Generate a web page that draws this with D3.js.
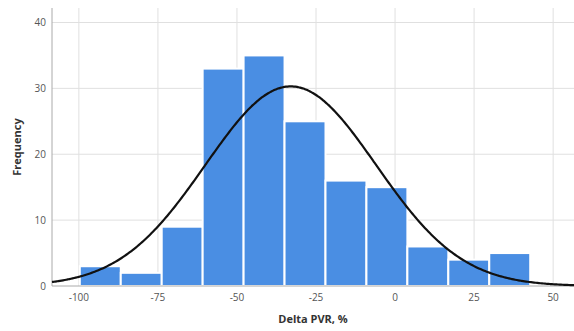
<!DOCTYPE html>
<html>
<head>
<meta charset="utf-8">
<script src="https://cdn.jsdelivr.net/npm/d3@7"></script>
<style>
  body { margin: 0; background: #fff; }
  text { font-family: "Open Sans", "DejaVu Sans", sans-serif; }
</style>
</head>
<body>
<svg id="chart"></svg>
<script>
const width = 574;
const height = 331;

// Histogram bins (lower edges) and counts
const binStart = -99.7;
const binWidth = 12.95;
const counts = [3, 2, 9, 33, 35, 25, 16, 15, 6, 4, 5];

// Fitted normal curve
const curveMean = -33;
const curveSd = 27;
const curvePeak = 30.3;

const xTicks = [-100, -75, -50, -25, 0, 25, 50];
const yTicks = [0, 10, 20, 30, 40];

const margin = { top: 8, right: 0, bottom: 45, left: 52 };

const svg = d3.select("#chart")
    .attr("width", width)
    .attr("height", height);

const x = d3.scaleLinear()
    .domain([-108.5, 56.6])
    .range([margin.left, width - margin.right]);

const y = d3.scaleLinear()
    .domain([0, 42.2])
    .range([height - margin.bottom, margin.top]);

// Grid lines
svg.append("g")
    .selectAll("line")
    .data(xTicks)
    .join("line")
    .attr("x1", d => x(d))
    .attr("x2", d => x(d))
    .attr("y1", margin.top)
    .attr("y2", y(0))
    .attr("stroke", "#e0e0e0")
    .attr("stroke-width", 1);

svg.append("g")
    .selectAll("line")
    .data(yTicks.filter(d => d > 0))
    .join("line")
    .attr("x1", margin.left)
    .attr("x2", width - margin.right)
    .attr("y1", d => y(d))
    .attr("y2", d => y(d))
    .attr("stroke", "#e0e0e0")
    .attr("stroke-width", 1);

// Bars
const bins = counts.map((c, i) => ({
    x0: binStart + i * binWidth,
    x1: binStart + (i + 1) * binWidth,
    count: c
}));

svg.append("g")
    .selectAll("rect")
    .data(bins)
    .join("rect")
    .attr("x", d => x(d.x0))
    .attr("width", d => x(d.x1) - x(d.x0))
    .attr("y", d => y(d.count))
    .attr("height", d => y(0) - y(d.count))
    .attr("fill", "#4a8ee3")
    .attr("stroke", "#fff")
    .attr("stroke-width", 2);

// Axes lines
svg.append("line")
    .attr("x1", margin.left).attr("x2", margin.left)
    .attr("y1", margin.top).attr("y2", y(0))
    .attr("stroke", "#aaa");

svg.append("line")
    .attr("x1", margin.left).attr("x2", width - margin.right)
    .attr("y1", y(0)).attr("y2", y(0))
    .attr("stroke", "#aaa");

// Normal curve
const curvePts = d3.range(x.domain()[0], x.domain()[1] + 0.5, 0.5).map(v => {
    const z = (v - curveMean) / curveSd;
    return [v, curvePeak * Math.exp(-0.5 * z * z)];
});

svg.append("path")
    .datum(curvePts)
    .attr("fill", "none")
    .attr("stroke", "#111")
    .attr("stroke-width", 2.2)
    .attr("d", d3.line().x(d => x(d[0])).y(d => y(d[1])).curve(d3.curveBasis));

// Tick labels
svg.append("g")
    .selectAll("text")
    .data(xTicks)
    .join("text")
    .attr("x", d => x(d))
    .attr("y", y(0) + 15)
    .attr("text-anchor", "middle")
    .attr("font-size", 10)
    .attr("fill", "#555")
    .text(d => d);

svg.append("g")
    .selectAll("text")
    .data(yTicks)
    .join("text")
    .attr("x", margin.left - 6)
    .attr("y", d => y(d) + 3.5)
    .attr("text-anchor", "end")
    .attr("font-size", 10)
    .attr("fill", "#555")
    .text(d => d);

// Axis titles
svg.append("text")
    .attr("x", (margin.left + width - margin.right) / 2)
    .attr("y", 323)
    .attr("text-anchor", "middle")
    .attr("font-size", 11)
    .attr("font-weight", "bold")
    .attr("fill", "#333")
    .text("Delta PVR, %");

svg.append("text")
    .attr("transform", `translate(21, ${(margin.top + y(0)) / 2}) rotate(-90)`)
    .attr("text-anchor", "middle")
    .attr("font-size", 11)
    .attr("font-weight", "bold")
    .attr("fill", "#333")
    .text("Frequency");
</script>
</body>
</html>
